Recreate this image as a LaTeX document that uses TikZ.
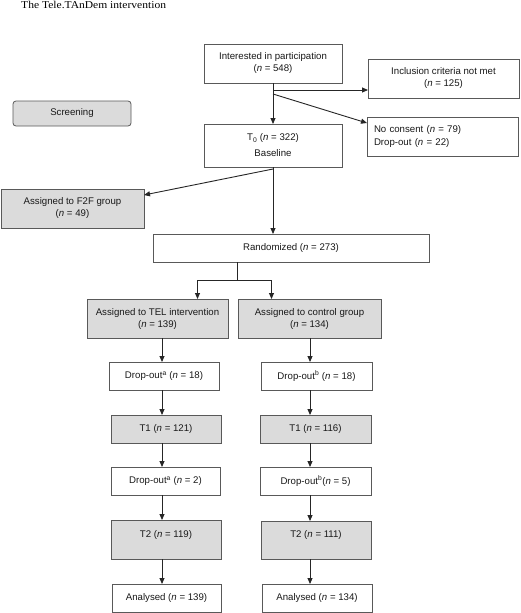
\documentclass[tikz,border=0pt]{standalone}
\usepackage{fontspec}
\setmainfont{Liberation Sans}
\newfontfamily\titlefont{Liberation Serif}
\usetikzlibrary{arrows.meta,calc}
\begin{document}
\begin{tikzpicture}[x=1pt,y=-1pt,
  box/.style={draw=black!65, line width=0.8pt, fill=white, inner sep=0pt, outer sep=0pt, align=center, text=black!90, font=\fontsize{9.65}{12}\selectfont},
  gbox/.style={box, fill=black!14},
  arr/.style={draw=black!85, line width=0.9pt, -{Triangle[length=6pt,width=5pt]}},
  ln/.style={draw=black!85, line width=0.9pt}]
\useasboundingbox[fill=white] (0,0) rectangle (520,613);
% title
\node[anchor=base west, inner sep=0pt, font=\titlefont\fontsize{10.5}{12}\selectfont] (title) at (21,9) {\scalebox{1.1}[1]{The Tele.TAnDem intervention}};
% boxes
\node[box, minimum width=138pt, minimum height=39pt] (int) at (273,63.5) {Interested in participation\\(\textit{n} = 548)};
\node[box, minimum width=151pt, minimum height=39pt] (incl) at (443.5,78.5) {Inclusion criteria not met\\(\textit{n} = 125)};
\node[box, minimum width=151pt, minimum height=39pt, align=left, text width=137pt, inner xsep=7pt, font=\fontsize{9.65}{13}\selectfont] (nc) at (442.5,136.5) {No consent (\textit{n} = 79)\\Drop-out (\textit{n} = 22)};
\node[box, minimum width=138pt, minimum height=43pt, font=\fontsize{9.65}{16}\selectfont] (t0) at (273,145.5) {T\textsubscript{0} (\textit{n} = 322)\\Baseline};
\node[gbox, rounded corners=3pt, minimum width=118pt, minimum height=25pt] (scr) at (72,113.5) {Screening};
\node[gbox, minimum width=143pt, minimum height=39pt] (f2f) at (72.5,208.5) {Assigned to F2F group\\(\textit{n} = 49)};
\node[box, minimum width=276pt, minimum height=28pt] (rand) at (291,248) {Randomized (\textit{n} = 273)};
\node[gbox, minimum width=141pt, minimum height=39pt] (tel) at (157.5,318.5) {Assigned to TEL intervention\\(\textit{n} = 139)};
\node[gbox, minimum width=143pt, minimum height=39pt] (ctl) at (309.5,318.5) {Assigned to control group\\(\textit{n} = 134)};
\node[box, minimum width=110pt, minimum height=28pt] (d1a) at (164,376) {Drop-out\textsuperscript{a} (\textit{n} = 18)};
\node[box, minimum width=111pt, minimum height=28pt] (d1b) at (316.5,376) {Drop-out\textsuperscript{b} (\textit{n} = 18)};
\node[gbox, minimum width=110pt, minimum height=28pt] (t1a) at (166,429) {T1 (\textit{n} = 121)};
\node[gbox, minimum width=111pt, minimum height=28pt] (t1b) at (315.5,429) {T1 (\textit{n} = 116)};
\node[box, minimum width=109pt, minimum height=28pt] (d2a) at (165.5,481) {Drop-out\textsuperscript{a} (\textit{n} = 2)};
\node[box, minimum width=111pt, minimum height=28pt] (d2b) at (315.5,481) {Drop-out\textsuperscript{b}(\textit{n} = 5)};
\node[gbox, minimum width=110pt, minimum height=39pt] (t2a) at (166,539.5) {T2 (\textit{n} = 119)\\\mbox{}};
\node[gbox, minimum width=110pt, minimum height=38pt] (t2b) at (316,540) {T2 (\textit{n} = 111)\\\mbox{}};
\node[box, minimum width=109pt, minimum height=28pt] (ana) at (166.5,598) {Analysed (\textit{n} = 139)};
\node[box, minimum width=110pt, minimum height=28pt] (anb) at (317,598) {Analysed (\textit{n} = 134)};
% helper coordinates
\coordinate (b1) at (273,90);
\coordinate (b2) at (273,94);
\coordinate (b3) at (273,169);
\coordinate (split) at (237,280);
\coordinate (sl) at (197.5,280);
\coordinate (sr) at (271.5,280);
\coordinate (lx) at (162,0);
\coordinate (rx) at (310,0);
% connectors
\draw[arr] (int.south) -- (t0.north);
\draw[arr] (b1) -- (b1 -| incl.west);
\draw[arr] (b2) -- ($(nc.north west)+(0,6)$);
\draw[arr] (b3) -- ($(f2f.north east)+(0,6)$);
\draw[arr] (t0.south) -- (t0.south |- rand.north);
\draw[ln] (rand.south -| split) -- (split);
\draw[ln] (sl) -- (sr);
\draw[arr] (sl) -- (sl |- tel.north);
\draw[arr] (sr) -- (sr |- ctl.north);
\draw[arr] (tel.south -| lx) -- (d1a.north -| lx);
\draw[arr] (d1a.south -| lx) -- (t1a.north -| lx);
\draw[arr] (t1a.south -| lx) -- (d2a.north -| lx);
\draw[arr] (d2a.south -| lx) -- (t2a.north -| lx);
\draw[arr] (t2a.south -| lx) -- (ana.north -| lx);
\draw[arr] (ctl.south -| rx) -- (d1b.north -| rx);
\draw[arr] (d1b.south -| rx) -- (t1b.north -| rx);
\draw[arr] (t1b.south -| rx) -- (d2b.north -| rx);
\draw[arr] (d2b.south -| rx) -- (t2b.north -| rx);
\draw[arr] (t2b.south -| rx) -- (anb.north -| rx);
\end{tikzpicture}
\end{document}
